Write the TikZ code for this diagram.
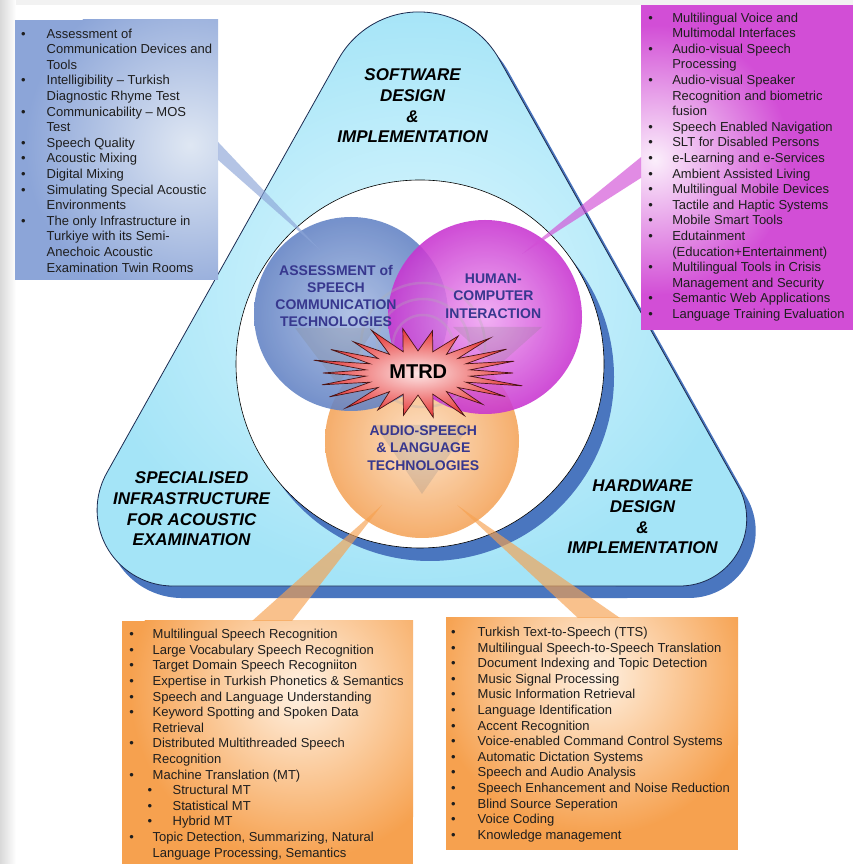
\documentclass[tikz,border=0pt]{standalone}
\usepackage{fontspec}
\setmainfont{Liberation Sans}
\usetikzlibrary{calc, positioning}

\definecolor{trishadow}{HTML}{4A76BF}
\definecolor{trilight}{HTML}{DDF7FE}
\definecolor{tridark}{HTML}{A4E4F7}
\definecolor{triedge}{HTML}{1B2A50}
\definecolor{boxblue}{HTML}{8CA5D8}
\definecolor{boxbluelt}{HTML}{DFE7F3}
\definecolor{boxmag}{HTML}{D24ED6}
\definecolor{boxmaglt}{HTML}{FBEEFB}
\definecolor{boxorange}{HTML}{F6A14F}
\definecolor{boxorangelt}{HTML}{FFF2E4}
\definecolor{ascblue}{HTML}{6282C4}
\definecolor{ascbluelt}{HTML}{A6BAE2}
\definecolor{hcimag}{HTML}{C834D0}
\definecolor{hcimaglt}{HTML}{F0A6F3}
\definecolor{aslorange}{HTML}{F4A358}
\definecolor{aslorangelt}{HTML}{FDDDBE}
\definecolor{starred}{HTML}{E63434}
\definecolor{starlt}{HTML}{FDE6E6}
\definecolor{staredge}{HTML}{4A1414}
\definecolor{labelink}{HTML}{37378E}
\definecolor{listink}{HTML}{1E1E1E}

\newlength{\bulw}
\newcommand{\lbul}{\strut\makebox[\bulw][l]{\textbullet}}
\newcommand{\lcont}{\strut\hspace*{\bulw}}
\newcommand{\lsub}{\strut\hspace*{18.3pt}\makebox[25pt][l]{\textbullet}}

\tikzset{
	tripath/.style={insert path={(338.5,805) -- (106.8,391.1) arc[start angle=150.75, end angle=270, radius=76] -- (679.7,278) arc[start angle=270, end angle=389.25, radius=67] -- (499.1,805) arc[start angle=29.25, end angle=150.75, radius=92] -- cycle}},
	infobox/.style={fill=#1, anchor=south west, inner sep=0, outer sep=0},
	listtext/.style={anchor=north west, inner sep=0, outer sep=0, align=left, text=listink, font=\fontsize{13}{15.6}\selectfont, execute at begin node={\setlength{\bulw}{#1}}},
	topic/.style={circle, minimum size=194pt, inner sep=0, outer sep=0, shade, fill opacity=0.88},
	topiclabel/.style={align=center, inner sep=0, text=labelink, font=\fontsize{14}{17.3}\selectfont\bfseries},
	trilabel/.style={align=center, inner sep=0, font=\fontsize{17}{20.7}\selectfont\bfseries\itshape},
	beam/.style={fill opacity=0.65},
	ring/.style={draw=gray!60, line width=2.5pt, opacity=0.3}
}

\begin{document}
\begin{tikzpicture}[x=1pt, y=1pt]
	\useasboundingbox (0,0) rectangle (853,864);
	\fill[white] (0,0) rectangle (853,864);
	\shade[left color=black!15, right color=white] (0,0) rectangle (16,864);
	\fill[black!5] (16,859) rectangle (853,864);

	\begin{scope}[shift={(9,-12)}]
		\fill[trishadow, tripath];
	\end{scope}
	\shadedraw[inner color=trilight, outer color=tridark, draw=triedge, line width=0.8pt, tripath];

	\begin{scope}[shift={(10,-13)}]
		\fill[trishadow] (420,500) circle[radius=184];
	\end{scope}
	\node[circle, draw=black, fill=white, line width=0.6pt, minimum size=368pt, inner sep=0] (core) at (420,500) {};

	\node[topic, inner color=aslorangelt, outer color=aslorange] (asl) at (422,423) {};
	\node[topic, inner color=ascbluelt, outer color=ascblue] (asc) at (351,550) {};
	\node[topic, inner color=hcimaglt, outer color=hcimag] (hci) at (485,547) {};

	\foreach \r in {30,46,62}
		\draw[ring] (423,519) circle[radius=\r];
	\fill[gray, opacity=0.22] (295,536) -- (375,536) -- (338,479) -- cycle;
	\fill[gray, opacity=0.22] (453,537) -- (542,537) -- (497,497) -- cycle;
	\fill[gray, opacity=0.22] (375,439) -- (470,439) -- (422,370) -- cycle;

	\shadedraw[inner color=starlt, outer color=starred, draw=staredge, line width=0.7pt]
		({418+112*0.85},491) \foreach \i [evaluate=\i as \f using {mod(\i,2)==0 ? 0.85+0.15*mod(\i*7,11)/10 : 0.47}] in {1,...,43} { -- ({418+112*\f*cos(\i*360/44)},{491+47*\f*sin(\i*360/44)}) } -- cycle;
	\node[inner sep=0, font=\fontsize{20}{24}\selectfont\bfseries] (mtrd) at (418.3,492.3) {MTRD};

	\node[topiclabel] (asctext) at (336,568) {ASSESSMENT of\\SPEECH\\COMMUNICATION\\TECHNOLOGIES};
	\node[topiclabel] (hcitext) at (493.3,568) {HUMAN-\\COMPUTER\\INTERACTION};
	\node[topiclabel] (asltext) at (423.3,416) {AUDIO-SPEECH\\\& LANGUAGE\\TECHNOLOGIES};

	\node[trilabel] (software) at (412.6,758) {SOFTWARE\\DESIGN\\\&\\IMPLEMENTATION};
	\node[trilabel] (infra) at (191.6,355) {SPECIALISED\\INFRASTRUCTURE\\FOR ACOUSTIC\\EXAMINATION};
	\node[trilabel] (hardware) at (642.5,347) {HARDWARE\\DESIGN\\\&\\IMPLEMENTATION};

	\node[infobox=boxblue, minimum width=203pt, minimum height=260pt] (ascbox) at (15,584) {};
	\node[infobox=boxmag, minimum width=212pt, minimum height=325pt] (hcibox) at (641,534) {};
	\node[infobox=boxorange, minimum width=291pt, minimum height=243pt] (aslboxL) at (122,0) {};
	\node[infobox=boxorange, minimum width=292pt, minimum height=232pt] (aslboxR) at (446,14) {};
	\begin{scope}
		\clip (ascbox.south west) rectangle (ascbox.north east);
		\shade[inner color=boxbluelt, outer color=boxblue] (190,719) circle[radius=165];
	\end{scope}
	\begin{scope}
		\clip (hcibox.south west) rectangle (hcibox.north east);
		\shade[inner color=boxmaglt, outer color=boxmag] (655,704) circle[radius=135];
	\end{scope}
	\begin{scope}
		\clip (aslboxL.south west) rectangle (aslboxL.north east);
		\shade[inner color=boxorangelt, outer color=boxorange] (300,174) circle[radius=170];
	\end{scope}
	\begin{scope}
		\clip (aslboxR.south west) rectangle (aslboxR.north east);
		\shade[inner color=boxorangelt, outer color=boxorange] (595,189) circle[radius=160];
	\end{scope}

	\node[listtext=25.7pt] (asclist) at (21,836.9) {\lbul Assessment of\\
		\lcont Communication Devices and\\
		\lcont Tools\\
		\lbul Intelligibility -- Turkish\\
		\lcont Diagnostic Rhyme Test\\
		\lbul Communicability -- MOS\\
		\lcont Test\\
		\lbul Speech Quality\\
		\lbul Acoustic Mixing\\
		\lbul Digital Mixing\\
		\lbul Simulating Special Acoustic\\
		\lcont Environments\\
		\lbul The only Infrastructure in\\
		\lcont Turkiye with its Semi-\\
		\lcont Anechoic Acoustic\\
		\lcont Examination Twin Rooms};
	\node[listtext=23.9pt] (hcilist) at (648.4,852.9) {\lbul Multilingual Voice and\\
		\lcont Multimodal Interfaces\\
		\lbul Audio-visual Speech\\
		\lcont Processing\\
		\lbul Audio-visual Speaker\\
		\lcont Recognition and biometric\\
		\lcont fusion\\
		\lbul Speech Enabled Navigation\\
		\lbul SLT for Disabled Persons\\
		\lbul e-Learning and e-Services\\
		\lbul Ambient Assisted Living\\
		\lbul Multilingual Mobile Devices\\
		\lbul Tactile and Haptic Systems\\
		\lbul Mobile Smart Tools\\
		\lbul Edutainment\\
		\lcont (Education+Entertainment)\\
		\lbul Multilingual Tools in Crisis\\
		\lcont Management and Security\\
		\lbul Semantic Web Applications\\
		\lbul Language Training Evaluation};
	\node[listtext=23.3pt] (asllistL) at (129.4,236.2) {\lbul Multilingual Speech Recognition\\
		\lbul Large Vocabulary Speech Recognition\\
		\lbul Target Domain Speech Recogniiton\\
		\lbul Expertise in Turkish Phonetics \& Semantics\\
		\lbul Speech and Language Understanding\\
		\lbul Keyword Spotting and Spoken Data\\
		\lcont Retrieval\\
		\lbul Distributed Multithreaded Speech\\
		\lcont Recognition\\
		\lbul Machine Translation (MT)\\
		\lsub Structural MT\\
		\lsub Statistical MT\\
		\lsub Hybrid MT\\
		\lbul Topic Detection, Summarizing, Natural\\
		\lcont Language Processing, Semantics};
	\node[listtext=26.7pt] (asllistR) at (451,238.5) {\lbul Turkish Text-to-Speech (TTS)\\
		\lbul Multilingual Speech-to-Speech Translation\\
		\lbul Document Indexing and Topic Detection\\
		\lbul Music Signal Processing\\
		\lbul Music Information Retrieval\\
		\lbul Language Identification\\
		\lbul Accent Recognition\\
		\lbul Voice-enabled Command Control Systems\\
		\lbul Automatic Dictation Systems\\
		\lbul Speech and Audio Analysis\\
		\lbul Speech Enhancement and Noise Reduction\\
		\lbul Blind Source Seperation\\
		\lbul Voice Coding\\
		\lbul Knowledge management};

	\fill[beam, boxblue] ($(ascbox.north east)!0.469!(ascbox.south east)$) -- ($(asc.center)+(-31,64)$) -- ($(ascbox.north east)!0.538!(ascbox.south east)$) -- cycle;
	\fill[beam, boxmag] ($(hcibox.north west)!0.468!(hcibox.south west)$) -- ($(hci.center)+(37,63)$) -- ($(hcibox.north west)!0.532!(hcibox.south west)$) -- cycle;
	\fill[beam, boxorange] ($(aslboxL.north west)!0.447!(aslboxL.north east)$) -- ($(asl.center)+(-40,-64)$) -- ($(aslboxL.north west)!0.584!(aslboxL.north east)$) -- cycle;
	\fill[beam, boxorange] ($(aslboxR.north west)!0.452!(aslboxR.north east)$) -- ($(asl.center)+(35,-64)$) -- ($(aslboxR.north west)!0.596!(aslboxR.north east)$) -- cycle;
\end{tikzpicture}
\end{document}
